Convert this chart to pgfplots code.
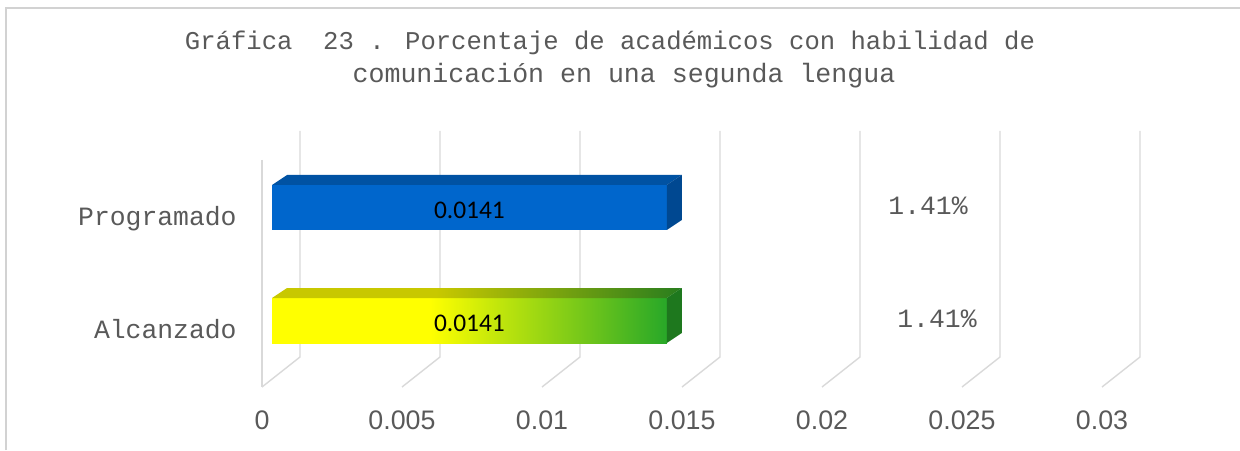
\documentclass[border=0pt]{standalone}
\usepackage{fontspec}
\setmainfont{Liberation Sans}
\newfontfamily\monof{Liberation Mono}
\newfontfamily\carlito{Carlito}
\usepackage{pgfplots}
\pgfplotsset{compat=1.18}
\definecolor{txt}{RGB}{89,89,89}
\definecolor{gridc}{RGB}{217,217,217}
\definecolor{framec}{RGB}{210,210,210}
\definecolor{bfront}{RGB}{0,102,204}
\definecolor{btop}{RGB}{0,82,163}
\definecolor{bside}{RGB}{0,72,145}
\definecolor{yfront}{RGB}{255,255,0}
\definecolor{gfront}{RGB}{40,168,40}
\definecolor{ytop}{RGB}{200,200,0}
\definecolor{gtop}{RGB}{40,125,30}
\definecolor{gside}{RGB}{30,120,30}
\pgfdeclarehorizontalshading{ygfront}{100bp}{color(0bp)=(yfront); color(25bp)=(yfront); color(45bp)=(yfront); color(75bp)=(gfront); color(100bp)=(gfront)}
\pgfdeclarehorizontalshading{ygtop}{100bp}{color(0bp)=(ytop); color(25bp)=(ytop); color(45bp)=(ytop); color(75bp)=(gtop); color(100bp)=(gtop)}
\begin{document}
\begin{tikzpicture}
\begin{axis}[
  at={(0,0)}, anchor=south west,
  scale only axis, width=620pt, height=225pt,
  xmin=-0.0093571, xmax=0.0349286, ymin=0, ymax=450,
  clip=false,
  axis line style={draw=none},
  major tick style={draw=none},
  scaled x ticks=false,
  xtick={0,0.005,0.01,0.015,0.02,0.025,0.03},
  xticklabels={0,0.005,0.01,0.015,0.02,0.025,0.03},
  xticklabel style={anchor=base, inner sep=0pt, yshift=10.5pt, font=\fontsize{13.4}{16}\selectfont, text=txt},
  ytick={112,224},
  yticklabels={Alcanzado,Programado},
  yticklabel style={anchor=base east, inner sep=0pt, xshift=118.5pt, font=\monof\fontsize{13.2}{16}\selectfont, text=txt},
]
% frame
\addplot[draw=framec, line width=1pt] coordinates {(-0.0091429,0) (-0.0091429,442) (0.0349286,442)};
% gridlines (back wall + floor)
\addplot[draw=gridc, line width=0.7pt] coordinates {(0.0013571,319) (0.0013571,93) (0,63)};
\addplot[draw=gridc, line width=0.7pt] coordinates {(0.0063571,319) (0.0063571,93) (0.005,63)};
\addplot[draw=gridc, line width=0.7pt] coordinates {(0.0113571,319) (0.0113571,93) (0.01,63)};
\addplot[draw=gridc, line width=0.7pt] coordinates {(0.0163571,319) (0.0163571,93) (0.015,63)};
\addplot[draw=gridc, line width=0.7pt] coordinates {(0.0213571,319) (0.0213571,93) (0.02,63)};
\addplot[draw=gridc, line width=0.7pt] coordinates {(0.0263571,319) (0.0263571,93) (0.025,63)};
\addplot[draw=gridc, line width=0.7pt] coordinates {(0.0313571,319) (0.0313571,93) (0.03,63)};
\addplot[draw=gridc, line width=0.7pt] coordinates {(0,290) (0,63)};
% Programado bar
\addplot[xbar, bar width=22.5pt, bar shift=0pt, fill=bfront, draw=none, xshift=5pt] coordinates {(0.0141,242.5)};
\addplot[fill=btop, draw=none, xshift=5pt] coordinates {(0,265) (0.0141,265) (0.014636,275) (0.000536,275)};
\addplot[fill=bside, draw=none, xshift=5pt] coordinates {(0.0141,265) (0.014636,275) (0.014636,230) (0.0141,220)};
% Alcanzado bar
\addplot[xbar, bar width=22.5pt, bar shift=0pt, draw=none, shade, shading=ygfront, xshift=5pt] coordinates {(0.0141,129.5)};
\addplot[draw=none, shade, shading=ygtop, xshift=5pt] coordinates {(0,152) (0.0141,152) (0.014636,162) (0.000536,162)};
\addplot[fill=gside, draw=none, xshift=5pt] coordinates {(0.0141,152) (0.014636,162) (0.014636,117) (0.0141,107)};
% bar value labels
\addplot[draw=none, mark=none, xshift=5pt, nodes near coords, point meta=explicit symbolic,
  every node near coord/.append style={anchor=center, inner sep=0pt, font=\carlito\fontsize{12.7}{14}\selectfont, text=black}]
  coordinates {(0.00705,240) [0.0141] (0.00705,126.5) [0.0141]};
% percentage labels
\node[anchor=base, inner sep=0pt, font=\monof\fontsize{13.2}{16}\selectfont, text=txt] at (axis cs:0.023786,235) {1.41\%};
\node[anchor=base, inner sep=0pt, font=\monof\fontsize{13.2}{16}\selectfont, text=txt] at (axis cs:0.024107,123) {1.41\%};
% title
\node[anchor=base, inner sep=0pt, font=\monof\fontsize{12.8}{16}\selectfont, text=txt] at (axis cs:0.012429,400) {Gráfica\ \ 23 . Porcentaje de académicos con habilidad de};
\node[anchor=base, inner sep=0pt, font=\monof\fontsize{13.3}{16}\selectfont, text=txt] at (axis cs:0.012929,367) {comunicación en una segunda lengua};
\end{axis}
\pgfresetboundingbox
\useasboundingbox (0,0) rectangle (620pt,225pt);
\end{tikzpicture}
\end{document}
